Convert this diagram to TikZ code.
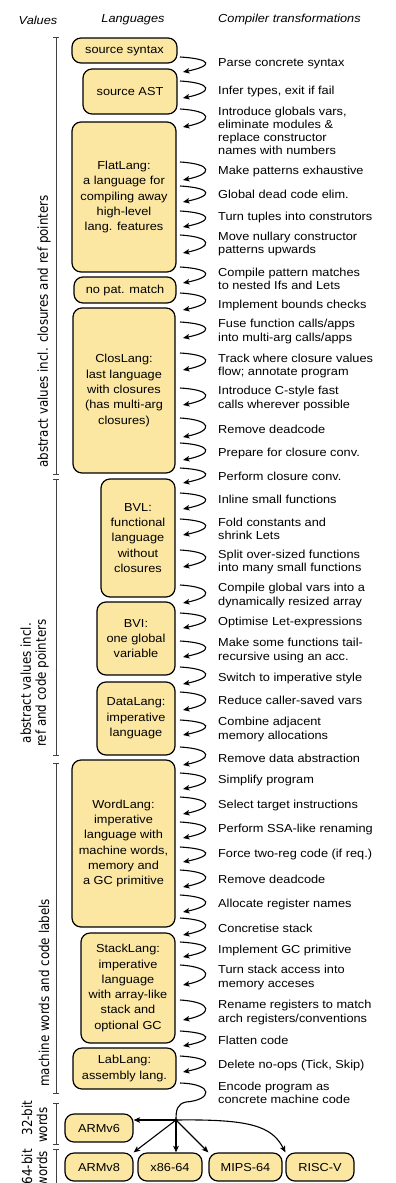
\documentclass[tikz,border=0pt]{standalone}
\usepackage{fontspec}
\setmainfont{Liberation Sans}[FakeStretch=1.10]
\newfontfamily\labelfont{DejaVu Sans}
\usetikzlibrary{arrows.meta}
\definecolor{langfill}{RGB}{252,231,162}

% language box given by its corners: name, x1, y1, x2, y2, text
\newcommand\LangBox[6]{%
  \node[lang, minimum width={(#4-#2)*1pt}, minimum height={(#5-#3)*1pt}]
    (#1) at ({(#2+#4)/2},{(#3+#5)/2}) {#6};}
% value-range bracket on the left
\newcommand\RangeBar[2]{%
  \draw[bracket] (53,#1) -- (59,#1) (56,#1) -- (56,#2) (53,#2) -- (59,#2);}

\begin{document}
\begin{tikzpicture}[x=1pt,y=-1pt,
  lang/.style={draw=black, line width=1.2pt, fill=langfill, rounded corners=9pt,
    inner sep=0pt, align=center, font=\fontsize{11.6}{15.3}\selectfont},
  trans/.style={anchor=west, inner sep=0pt, align=left,
    font=\fontsize{11.6}{13.2}\selectfont},
  tarrow/.style={line width=1.1pt, -{Stealth[length=6.5pt,width=5.5pt,inset=1.5pt]}},
  head/.style={inner sep=0pt, font=\fontsize{11.6}{13}\selectfont\itshape},
  bracket/.style={draw=black!75, line width=0.9pt},
  vlabel/.style={rotate=90, yscale=1.15, inner sep=0pt, align=center,
    font=\labelfont\fontsize{11.9}{13}\selectfont},
]
\useasboundingbox (0,0) rectangle (396,1183);
\clip (0,0) rectangle (396,1183);

% column headings
\node[head] (hval) at (38,20) {Values};
\node[head] (hlang) at (133,20) {Languages};
\node[head, anchor=west] (htrans) at (218,20) {Compiler transformations};

% intermediate languages
\LangBox{srcsyn}{72}{38}{177}{63}{source syntax}
\LangBox{srcast}{83}{69}{177}{114}{source AST}
\LangBox{flat}{72}{122}{176}{272}{FlatLang:\\a language for\\compiling away\\high-level\\lang. features}
\LangBox{nopat}{74}{277}{176}{303}{no pat. match}
\LangBox{clos}{73}{308}{175}{473}{ClosLang:\\last language\\with closures\\(has multi-arg\\closures)}
\LangBox{bvl}{101}{479}{175}{597}{BVL:\\functional\\language\\without\\closures}
\LangBox{bvi}{97}{602}{175}{675}{BVI:\\one global\\variable}
\LangBox{data}{97}{682}{175}{755}{DataLang:\\imperative\\language}
\LangBox{word}{72}{760}{175}{927}{WordLang:\\imperative\\language with\\machine words,\\memory and\\a GC primitive}
\LangBox{stack}{81}{933}{175}{1043}{StackLang:\\imperative\\language\\with array-like\\stack and\\optional GC}
\LangBox{lab}{73}{1048}{176}{1089}{LabLang:\\assembly lang.}
\LangBox{armvsix}{65}{1114}{133}{1142}{ARMv6}
\LangBox{armveight}{65}{1153}{133}{1181}{ARMv8}
\LangBox{xsix}{138}{1153}{202}{1181}{x86-64}
\LangBox{mips}{209}{1153}{282}{1181}{MIPS-64}
\LangBox{riscv}{286}{1153}{354}{1181}{RISC-V}

% compiler passes
\node[trans] (p1) at (218,64) {Parse concrete syntax};
\node[trans] (p2) at (218,91) {Infer types, exit if fail};
\node[trans] (p3) at (218,131) {Introduce globals vars,\\eliminate modules \&\\replace constructor\\names with numbers};
\node[trans] (p4) at (218,171) {Make patterns exhaustive};
\node[trans] (p5) at (218,194) {Global dead code elim.};
\node[trans] (p6) at (218,217) {Turn tuples into construtors};
\node[trans] (p7) at (218,244) {Move nullary constructor\\patterns upwards};
\node[trans] (p8) at (218,279) {Compile pattern matches\\to nested Ifs and Lets};
\node[trans] (p9) at (218,305) {Implement bounds checks};
\node[trans] (p10) at (218,331.5) {Fuse function calls/apps\\into multi-arg calls/apps};
\node[trans] (p11) at (218,366) {Track where closure values\\flow; annotate program};
\node[trans] (p12) at (218,398.5) {Introduce C-style fast\\calls wherever possible};
\node[trans] (p13) at (218,429) {Remove deadcode};
\node[trans] (p14) at (218,453) {Prepare for closure conv.};
\node[trans] (p15) at (218,476) {Perform closure conv.};
\node[trans] (p16) at (218,499) {Inline small functions};
\node[trans] (p17) at (218,528.5) {Fold constants and\\shrink Lets};
\node[trans] (p18) at (218,562) {Split over-sized functions\\into many small functions};
\node[trans] (p19) at (218,595.5) {Compile global vars into a\\dynamically resized array};
\node[trans] (p20) at (218,622) {Optimise Let-expressions};
\node[trans] (p21) at (218,650.5) {Make some functions tail-\\recursive using an acc.};
\node[trans] (p22) at (218,678) {Switch to imperative style};
\node[trans] (p23) at (218,700) {Reduce caller-saved vars};
\node[trans] (p24) at (218,729.5) {Combine adjacent\\memory allocations};
\node[trans] (p25) at (218,758) {Remove data abstraction};
\node[trans] (p26) at (218,780) {Simplify program};
\node[trans] (p27) at (218,805) {Select target instructions};
\node[trans] (p28) at (218,829) {Perform SSA-like renaming};
\node[trans] (p29) at (218,854) {Force two-reg code (if req.)};
\node[trans] (p30) at (218,879) {Remove deadcode};
\node[trans] (p31) at (218,904) {Allocate register names};
\node[trans] (p32) at (218,928) {Concretise stack};
\node[trans] (p33) at (218,950) {Implement GC primitive};
\node[trans] (p34) at (218,977.5) {Turn stack access into\\memory acceses};
\node[trans] (p35) at (218,1012.5) {Rename registers to match\\arch registers/conventions};
\node[trans] (p36) at (218,1040) {Flatten code};
\node[trans] (p37) at (218,1065) {Delete no-ops (Tick, Skip)};
\node[trans] (p38) at (218,1092.5) {Encode program as\\concrete machine code};

% one looping arrow per pass
\foreach \ya/\yb [count=\i] in {57/72, 81/98, 109/127, 162/180, 186/202, 211/227,
    235/253, 267/283, 293/310, 322/338, 353/370, 388/405, 418/437, 443/460,
    468/483, 493/509, 519/535, 550/567, 585/603, 613/628, 641/657, 667/684,
    692/710, 720/735, 747/765, 773/789, 797/814, 822/838, 847/862, 870/887,
    895/912, 918/935, 942/957, 965/985, 1000/1020, 1031/1046, 1056/1072} {
  \coordinate (ts\i) at (180,\ya);
  \coordinate (te\i) at (183,\yb);
  \draw[tarrow] (ts\i) .. controls +(33,2) and +(30,-6) .. (te\i);
}

% code generation fans out to the target architectures
\coordinate (enc) at (180,1083);
\coordinate (hub) at (176,1120);
\draw[line width=1.1pt] (enc) .. controls (215,1084) and (212,1100) .. (186,1102)
  .. controls (177,1104) and (176,1110) .. (hub);
\fill (hub) circle (1.8);
\draw[tarrow] (hub) -- (hub -| armvsix.east);
\draw[tarrow] (hub) -- (armveight.north east);
\draw[tarrow] (hub) -- (hub |- xsix.north);
\draw[tarrow] (hub) -- (mips.north west);
\draw[tarrow] (hub) .. controls (250,1119) and (272,1126) .. (riscv.north west);

% value representations
\RangeBar{37}{474}
\RangeBar{479}{755}
\RangeBar{763}{1093}
\RangeBar{1103}{1144}
\RangeBar{1149}{1200}
\node[vlabel, anchor=west] (v1) at (44,468) {abstract values incl. closures and ref pointers};
\node[vlabel, anchor=west] (v2) at (34.5,747) {abstract values incl.\\ref and code pointers};
\node[vlabel, anchor=west] (v3) at (44,1087) {machine words and code labels};
\node[vlabel] (v4a) at (27,1118) {32-bit};
\node[vlabel] (v4b) at (42,1125) {words};
\node[vlabel, anchor=east] (v5a) at (27,1149) {64-bit};
\node[vlabel, anchor=east] (v5b) at (42,1151) {words};
\end{tikzpicture}
\end{document}
